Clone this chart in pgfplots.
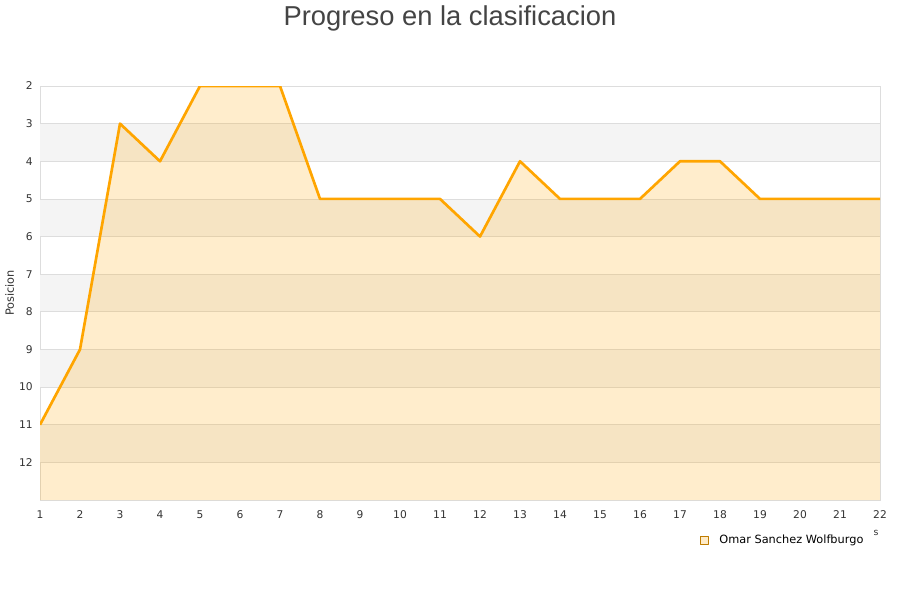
\documentclass[border=0pt]{standalone}
\usepackage{pgfplots}
\pgfplotsset{compat=1.18}
\usepackage{fontspec}
\setmainfont{DejaVu Sans}
\newfontfamily\titlefont{Liberation Sans}
\definecolor{lineor}{HTML}{FFA500}
\definecolor{band}{HTML}{F4F4F4}
\definecolor{gridc}{HTML}{DDDDDD}
\definecolor{txt}{HTML}{333333}
\definecolor{ttl}{HTML}{444444}
\begin{document}
\begin{tikzpicture}
\useasboundingbox[fill=white] (0pt,0pt) rectangle (675pt,450pt);
\node[anchor=base, font=\titlefont\fontsize{20.5}{24}\selectfont, text=ttl] at (337.5pt,430.5pt) {Progreso en la clasificacion};
\node[anchor=base, font=\fontsize{7}{8}\selectfont, text=txt] at (657pt,48.5pt) {s};
\begin{axis}[
  at={(30pt,75pt)}, anchor=south west, scale only axis,
  width=630pt, height=310.5pt,
  xmin=1, xmax=22, ymin=2, ymax=13, y dir=reverse,
  xtick={1,...,22}, ytick={2,...,12},
  major tick length=0pt, tick style={draw=none},
  axis line style={gridc, line width=0.6pt},
  ticklabel style={font=\fontsize{8}{9}\selectfont, text=txt},
  /pgf/number format/assume math mode=true,
  yticklabel style={anchor=east, xshift=-2pt},
  xticklabel style={anchor=north, yshift=-4.5pt},
  ylabel={Posicion},
  ylabel style={font=\fontsize{8.5}{9}\selectfont, text=txt, at={(axis description cs:-0.036,0.5)}, anchor=center},
  legend style={at={(axis description cs:0.7855,-0.0966)}, anchor=west, draw=none, fill=none, font=\fontsize{8.5}{10}\selectfont, inner sep=0pt, nodes={inner xsep=8pt}},
]
\addplot[fill=band, draw=none, forget plot] coordinates {(1,3) (22,3) (22,4) (1,4)};
\addplot[fill=band, draw=none, forget plot] coordinates {(1,5) (22,5) (22,6) (1,6)};
\addplot[fill=band, draw=none, forget plot] coordinates {(1,7) (22,7) (22,8) (1,8)};
\addplot[fill=band, draw=none, forget plot] coordinates {(1,9) (22,9) (22,10) (1,10)};
\addplot[fill=band, draw=none, forget plot] coordinates {(1,11) (22,11) (22,12) (1,12)};
\addplot[gridc, line width=0.6pt, forget plot] coordinates {(1,3) (22,3)};
\addplot[gridc, line width=0.6pt, forget plot] coordinates {(1,4) (22,4)};
\addplot[gridc, line width=0.6pt, forget plot] coordinates {(1,5) (22,5)};
\addplot[gridc, line width=0.6pt, forget plot] coordinates {(1,6) (22,6)};
\addplot[gridc, line width=0.6pt, forget plot] coordinates {(1,7) (22,7)};
\addplot[gridc, line width=0.6pt, forget plot] coordinates {(1,8) (22,8)};
\addplot[gridc, line width=0.6pt, forget plot] coordinates {(1,9) (22,9)};
\addplot[gridc, line width=0.6pt, forget plot] coordinates {(1,10) (22,10)};
\addplot[gridc, line width=0.6pt, forget plot] coordinates {(1,11) (22,11)};
\addplot[gridc, line width=0.6pt, forget plot] coordinates {(1,12) (22,12)};
\addplot[fill=lineor, fill opacity=0.2, draw=none, forget plot] coordinates {
(1,13) (1,11) (2,9) (3,3) (4,4) (5,2) (6,2) (7,2) (8,5) (9,5) (10,5) (11,5) (12,6) (13,4) (14,5) (15,5) (16,5) (17,4) (18,4) (19,5) (20,5) (21,5) (22,5) (22,13)};
\addplot[lineor, line width=2pt, line join=round, mark=none,
  legend image code/.code={\draw[lineor!75!black, fill=lineor!22, line width=0.5pt] (0pt,-3pt) rectangle (6pt,3pt);}] coordinates {
(1,11) (2,9) (3,3) (4,4) (5,2) (6,2) (7,2) (8,5) (9,5) (10,5) (11,5) (12,6) (13,4) (14,5) (15,5) (16,5) (17,4) (18,4) (19,5) (20,5) (21,5) (22,5)};
\addlegendentry{Omar Sanchez Wolfburgo}
\end{axis}
\end{tikzpicture}
\end{document}
